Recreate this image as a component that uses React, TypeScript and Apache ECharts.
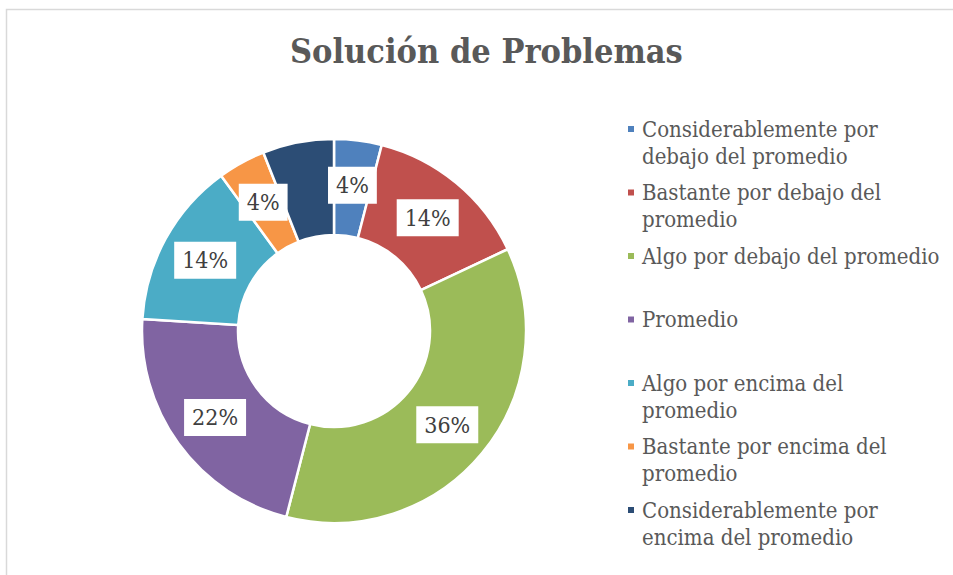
import React, { useEffect, useRef } from "react";
import * as echarts from "echarts";

const titleText = "Solución de Problemas";
const categories = [
  "Considerablemente por\ndebajo del promedio",
  "Bastante por debajo del\npromedio",
  "Algo por debajo del promedio\n ",
  "Promedio\n ",
  "Algo por encima del\npromedio",
  "Bastante por encima del\npromedio",
  "Considerablemente por\nencima del promedio",
];
const counts = [2, 7, 18, 11, 7, 2, 3];
const colors = ["#4F81BD", "#C0504D", "#9BBB59", "#8064A2", "#4BACC6", "#F79646", "#2C4D75"];

const FONT = '"DejaVu Serif Condensed", "DejaVu Serif", serif';

export default function App() {
  const ref = useRef<HTMLDivElement>(null);
  useEffect(() => {
    if (!ref.current) return;
    const chart = echarts.init(ref.current, undefined, { renderer: "svg" });
    chart.setOption({
      animation: false,
      backgroundColor: "#ffffff",
      title: {
        text: titleText,
        left: 290,
        top: 34,
        padding: 0,
        textStyle: { fontFamily: FONT, fontSize: 34, fontWeight: "bold", color: "#595959" },
      },
      legend: {
        orient: "vertical",
        left: 626,
        top: 88.5,
        padding: 0,
        itemWidth: 8,
        itemHeight: 8,
        itemGap: -17.5,
        icon: "rect",
        data: categories,
        formatter: (name: string) => " \n" + name,
        textStyle: {
          fontFamily: FONT,
          fontSize: 22,
          color: "#595959",
          lineHeight: 27,
          padding: [0, 0, 0, 2],
        },
      },
      graphic: [
        {
          type: "rect",
          shape: { x: 6.5, y: 9.5, width: 980, height: 620 },
          style: { fill: "none", stroke: "#d9d9d9", lineWidth: 1.5 },
          silent: true,
        },
      ],
      series: [
        {
          type: "pie",
          center: [334, 331],
          radius: [96, 192],
          startAngle: 90,
          clockwise: true,
          avoidLabelOverlap: false,
          itemStyle: { borderColor: "#ffffff", borderWidth: 2.5 },
          label: {
            show: true,
            position: "inside",
            formatter: (p: any) => `${Math.round(p.percent)}%`,
            backgroundColor: "#ffffff",
            padding: [6, 8, 6, 8],
            color: "#404040",
            fontFamily: FONT,
            fontSize: 23,
            lineHeight: 25,
          },
          labelLine: { show: false },
          data: categories.map((c, i) => ({ name: c, value: counts[i], itemStyle: { color: colors[i] } })),
        },
      ],
    });
    return () => chart.dispose();
  }, []);
  return (
    <div
      ref={ref}
      style={{ position: "absolute", left: 0, top: 0, width: 953, height: 575 }}
    />
  );
}
